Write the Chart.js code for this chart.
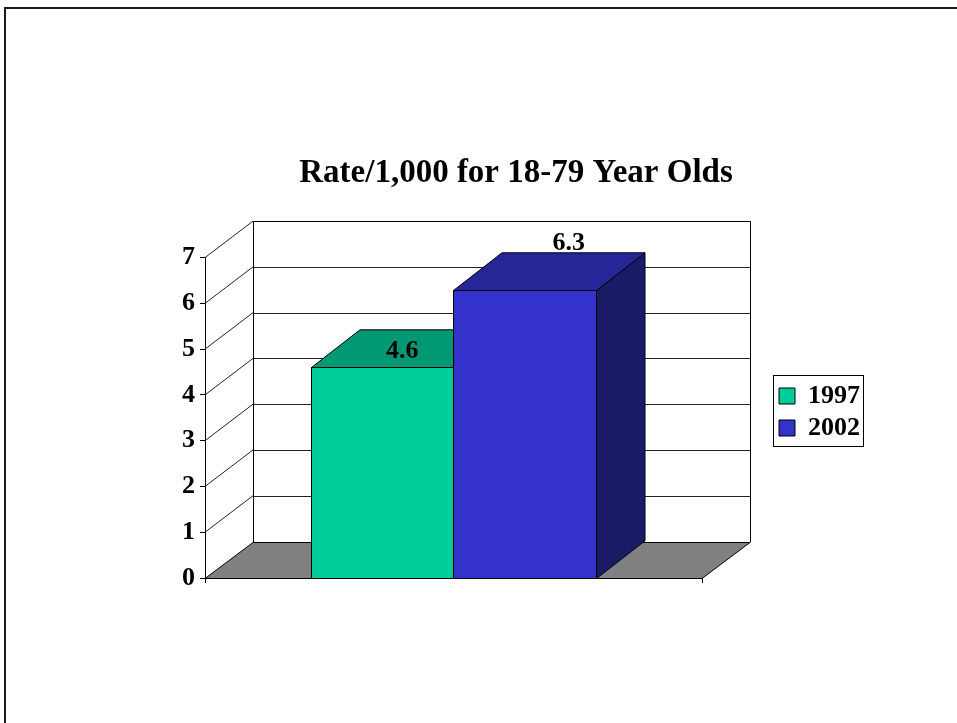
<!DOCTYPE html>
<html>
<head>
<meta charset="utf-8">
<script src="https://cdn.jsdelivr.net/npm/chart.js@4.4.1/dist/chart.umd.min.js"></script>
<style>
html,body{margin:0;padding:0;background:#fff;overflow:hidden;width:957px;height:723px;}
#frame{position:absolute;left:4px;top:7px;width:2000px;height:2000px;border-left:2px solid #1a1a1a;border-top:2px solid #1a1a1a;}
#c{position:absolute;left:0;top:0;}
</style>
</head>
<body>
<div id="frame"></div>
<canvas id="c" width="957" height="723"></canvas>
<script>
// ---- data ----
const categories = ['18-79 Year Olds'];
const seriesNames = ['1997', '2002'];
const values1997 = [4.6];
const values2002 = [6.3];
const yTickMin = 0;
const yTickMax = 7;
const yTickStep = 1;
const chartTitle = 'Rate/1,000 for 18-79 Year Olds';

// ---- style ----
const FONT = "'Liberation Serif', 'Times New Roman', serif";
const frontColors = ['#00CC99', '#3333CC'];
const topColors = ['#009973', '#262699'];
const sideColors = ['#007356', '#1A1A66'];
const WALL_DX = 48, WALL_DY = -36.5;
const BAR_DX = 48.5, BAR_DY = -37.7;
const labelOffsets = [[20, -16], [44, -46]];

function al(v) { return Math.round(v) + 0.5; }

const depth3d = {
  id: 'depth3d',
  beforeDatasetsDraw(chart) {
    const {ctx, chartArea: a, scales: {y}} = chart;
    const B = y.getPixelForValue(y.min), T = y.getPixelForValue(y.max);
    const L = a.left, R = a.right;
    ctx.save();
    ctx.lineWidth = 1;
    // back wall
    ctx.fillStyle = '#ffffff';
    ctx.fillRect(L + WALL_DX, T + WALL_DY, R - L, B - T);
    // grid lines: back wall + side wall diagonals
    ctx.strokeStyle = '#222';
    y.ticks.forEach(t => {
      if (t.value <= y.min) return;
      const py = y.getPixelForValue(t.value);
      ctx.beginPath();
      ctx.moveTo(L, py);
      ctx.lineTo(L + WALL_DX, py + WALL_DY);
      ctx.stroke();
      ctx.beginPath();
      ctx.moveTo(al(L + WALL_DX), al(py + WALL_DY));
      ctx.lineTo(al(R + WALL_DX), al(py + WALL_DY));
      ctx.stroke();
    });
    // wall edges
    ctx.strokeStyle = '#000';
    ctx.beginPath();
    ctx.moveTo(al(L + WALL_DX), al(B + WALL_DY));
    ctx.lineTo(al(L + WALL_DX), al(T + WALL_DY));
    ctx.lineTo(al(R + WALL_DX), al(T + WALL_DY));
    ctx.lineTo(al(R + WALL_DX), al(B + WALL_DY));
    ctx.stroke();
    // floor
    ctx.fillStyle = '#808080';
    ctx.beginPath();
    ctx.moveTo(L, al(B));
    ctx.lineTo(R, al(B));
    ctx.lineTo(R + WALL_DX, al(B + WALL_DY));
    ctx.lineTo(L + WALL_DX, al(B + WALL_DY));
    ctx.closePath();
    ctx.fill();
    ctx.stroke();
    ctx.restore();
  },
  afterDatasetsDraw(chart) {
    const {ctx} = chart;
    ctx.save();
    ctx.lineWidth = 1;
    ctx.strokeStyle = '#000';
    ctx.lineJoin = 'miter';
    const labels = [];
    chart.data.datasets.forEach((ds, i) => {
      const meta = chart.getDatasetMeta(i);
      meta.data.forEach((bar, j) => {
        const p = bar.getProps(['x', 'y', 'base', 'width'], true);
        const l = al(p.x - p.width / 2), r = al(p.x + p.width / 2);
        const t = al(p.y), b = al(p.base);
        // side
        ctx.fillStyle = sideColors[i];
        ctx.beginPath();
        ctx.moveTo(r, t); ctx.lineTo(r + BAR_DX, t + BAR_DY);
        ctx.lineTo(r + BAR_DX, b + BAR_DY); ctx.lineTo(r, b); ctx.closePath();
        ctx.fill(); ctx.stroke();
        // top
        ctx.fillStyle = topColors[i];
        ctx.beginPath();
        ctx.moveTo(l, t); ctx.lineTo(r, t);
        ctx.lineTo(r + BAR_DX, t + BAR_DY); ctx.lineTo(l + BAR_DX, t + BAR_DY); ctx.closePath();
        ctx.fill(); ctx.stroke();
        // front
        ctx.fillStyle = frontColors[i];
        ctx.fillRect(l, t, r - l, b - t);
        ctx.strokeRect(l, t, r - l, b - t);
        const off = labelOffsets[i] || [0, -16];
        labels.push({x: p.x + off[0], y: p.y + off[1], text: String(ds.data[j])});
      });
    });
    ctx.fillStyle = '#000';
    ctx.font = "bold 26px " + FONT;
    ctx.textAlign = 'center';
    ctx.textBaseline = 'middle';
    labels.forEach(lb => ctx.fillText(lb.text, lb.x, lb.y));
    ctx.restore();
  },
  afterDraw(chart) {
    const lg = chart.legend;
    if (!lg || !lg.legendHitBoxes || !lg.legendHitBoxes.length) return;
    const hb = lg.legendHitBoxes;
    const first = hb[0], last = hb[hb.length - 1];
    const ctx = chart.ctx;
    ctx.save();
    ctx.strokeStyle = '#000';
    ctx.lineWidth = 1;
    const x0 = al(lg.left), x1 = al(lg.left + 90);
    const y0 = al(first.top - 8), y1 = al(last.top + last.height + 5);
    ctx.strokeRect(x0, y0, x1 - x0, y1 - y0);
    ctx.restore();
  }
};

new Chart(document.getElementById('c'), {
  type: 'bar',
  data: {
    labels: categories,
    datasets: [
      {label: seriesNames[0], data: values1997, backgroundColor: frontColors[0], borderColor: '#000', borderWidth: 1},
      {label: seriesNames[1], data: values2002, backgroundColor: frontColors[1], borderColor: '#000', borderWidth: 1}
    ]
  },
  options: {
    responsive: false,
    animation: false,
    devicePixelRatio: 1,
    layout: {padding: {left: 162, right: 87, top: 101, bottom: 0}},
    datasets: {bar: {categoryPercentage: 0.574, barPercentage: 1.0}},
    scales: {
      x: {
        position: 'bottom',
        ticks: {display: false},
        grid: {drawOnChartArea: false, drawTicks: true, tickLength: 5, color: '#000'},
        border: {display: true, color: '#000', width: 1},
        afterFit(s) { s.height = 145; }
      },
      y: {
        position: 'left',
        min: yTickMin, max: yTickMax,
        ticks: {stepSize: yTickStep, color: '#000', padding: 5, font: {family: FONT, size: 26, weight: 'bold'}},
        grid: {drawOnChartArea: false, drawTicks: true, tickLength: 5, color: '#000'},
        border: {display: true, color: '#000', width: 1},
        afterFit(s) { s.width = 43; }
      },
      y2: {
        position: 'right',
        display: true,
        ticks: {display: false},
        grid: {display: false, drawTicks: false},
        border: {display: false},
        afterFit(s) { s.width = 71; }
      }
    },
    plugins: {
      title: {
        display: true,
        text: chartTitle,
        color: '#000',
        font: {family: FONT, size: 33, weight: 'bold'},
        padding: {top: 53, bottom: 64}
      },
      legend: {
        display: true,
        position: 'right',
        align: 'center',
        labels: {
          color: '#000',
          font: {family: FONT, size: 26, weight: 'bold'},
          boxWidth: 16, boxHeight: 16, padding: 6
        }
      },
      tooltip: {enabled: false}
    }
  },
  plugins: [depth3d]
});
</script>
</body>
</html>
